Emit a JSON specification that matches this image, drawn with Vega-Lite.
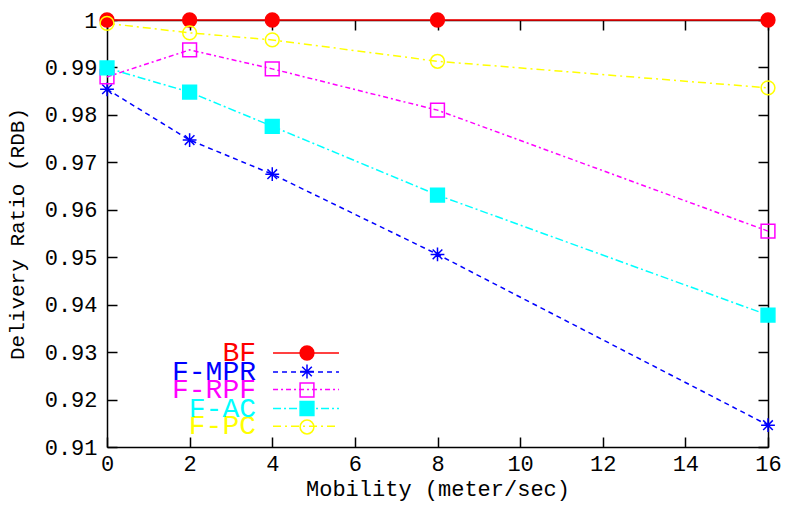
{
  "$schema": "https://vega.github.io/schema/vega-lite/v6.json",
  "width": 661,
  "height": 427,
  "autosize": "none",
  "padding": {"left": 107, "top": 20, "right": 18, "bottom": 59},
  "background": "white",
  "config": {
    "view": {"stroke": null},
    "font": "Liberation Mono",
    "axis": {
      "domainColor": "black", "domainWidth": 1.5,
      "tickColor": "black", "tickWidth": 1.5, "tickSize": -10,
      "grid": false, "labelFlush": false,
      "labelFont": "Liberation Mono", "labelFontSize": 22, "labelColor": "black",
      "titleFont": "Liberation Mono", "titleFontWeight": "normal", "titleColor": "black"
    }
  },
  "data": {"values": [
    {"mobility": 0, "ratio": 1.0, "protocol": "BF"},
    {"mobility": 2, "ratio": 1.0, "protocol": "BF"},
    {"mobility": 4, "ratio": 1.0, "protocol": "BF"},
    {"mobility": 8, "ratio": 1.0, "protocol": "BF"},
    {"mobility": 16, "ratio": 1.0, "protocol": "BF"},
    {"mobility": 0, "ratio": 0.9854, "protocol": "F-MPR"},
    {"mobility": 2, "ratio": 0.9747, "protocol": "F-MPR"},
    {"mobility": 4, "ratio": 0.9675, "protocol": "F-MPR"},
    {"mobility": 8, "ratio": 0.9506, "protocol": "F-MPR"},
    {"mobility": 16, "ratio": 0.9146, "protocol": "F-MPR"},
    {"mobility": 0, "ratio": 0.9880, "protocol": "F-RPF"},
    {"mobility": 2, "ratio": 0.9937, "protocol": "F-RPF"},
    {"mobility": 4, "ratio": 0.9897, "protocol": "F-RPF"},
    {"mobility": 8, "ratio": 0.9810, "protocol": "F-RPF"},
    {"mobility": 16, "ratio": 0.9555, "protocol": "F-RPF"},
    {"mobility": 0, "ratio": 0.9899, "protocol": "F-AC"},
    {"mobility": 2, "ratio": 0.9848, "protocol": "F-AC"},
    {"mobility": 4, "ratio": 0.9776, "protocol": "F-AC"},
    {"mobility": 8, "ratio": 0.9631, "protocol": "F-AC"},
    {"mobility": 16, "ratio": 0.9378, "protocol": "F-AC"},
    {"mobility": 0, "ratio": 0.9993, "protocol": "F-PC"},
    {"mobility": 2, "ratio": 0.9973, "protocol": "F-PC"},
    {"mobility": 4, "ratio": 0.9958, "protocol": "F-PC"},
    {"mobility": 8, "ratio": 0.9913, "protocol": "F-PC"},
    {"mobility": 16, "ratio": 0.9857, "protocol": "F-PC"}
  ]},
  "layer": [
    {
      "transform": [{"filter": {"field": "protocol", "oneOf": ["BF", "F-RPF", "F-PC"]}}],
      "mark": {"type": "line", "strokeWidth": 1.5},
      "encoding": {
        "x": {"field": "mobility", "type": "quantitative",
              "scale": {"domain": [0, 16], "nice": false},
              "axis": {"orient": "top", "labels": false, "title": null, "values": [0, 2, 4, 6, 8, 10, 12, 14, 16]}},
        "y": {"field": "ratio", "type": "quantitative",
              "scale": {"domain": [0.91, 1.0], "nice": false, "zero": false},
              "axis": {"orient": "right", "labels": false, "title": null, "values": [0.91, 0.92, 0.93, 0.94, 0.95, 0.96, 0.97, 0.98, 0.99, 1.0]}},
        "color": {"field": "protocol", "type": "nominal",
                  "scale": {"domain": ["BF", "F-MPR", "F-RPF", "F-AC", "F-PC"],
                            "range": ["#ff0000", "#0000ff", "#ff00ff", "#00ffff", "#ffff00"]},
                  "legend": {"orient": "none", "legendX": 185, "legendY": 319, "title": null,
                             "values": ["BF", "F-RPF", "F-PC"],
                             "padding": 0, "symbolType": "M-5,0H5", "symbolSize": 174, "symbolStrokeWidth": 1.5,
                             "labelFont": "Liberation Mono", "labelFontSize": 28, "labelAlign": "right",
                             "labelOffset": -64, "labelLimit": 0, "rowPadding": 8.6,
                             "encode": {"labels": {"update": {"fill": {"scale": "color", "field": "value"}}}}}},
        "strokeDash": {"field": "protocol", "type": "nominal",
                       "scale": {"domain": ["BF", "F-MPR", "F-RPF", "F-AC", "F-PC"],
                                 "range": [[1, 0], [5, 4], [5, 3, 2, 3], [8, 3, 2, 3], [8, 4, 2, 4]]}}
      }
    },
    {
      "transform": [{"filter": {"field": "protocol", "oneOf": ["F-MPR", "F-AC"]}}],
      "mark": {"type": "line", "strokeWidth": 1.5},
      "encoding": {
        "x": {"field": "mobility", "type": "quantitative", "axis": null},
        "y": {"field": "ratio", "type": "quantitative", "axis": null},
        "color": {"field": "protocol", "type": "nominal",
                  "legend": {"orient": "none", "legendX": 185, "legendY": 338, "title": null,
                             "values": ["F-MPR", "F-AC"],
                             "padding": 0, "symbolType": "M-5,0H5", "symbolSize": 174, "symbolStrokeWidth": 1.5,
                             "labelFont": "Liberation Mono", "labelFontSize": 28, "labelAlign": "right",
                             "labelOffset": -64, "labelLimit": 0, "rowPadding": 8.6,
                             "encode": {"labels": {"update": {"fill": {"scale": "color", "field": "value"}}}}}},
        "strokeDash": {"field": "protocol", "type": "nominal"}
      }
    },
    {
      "mark": {"type": "point", "filled": false, "size": 190, "strokeWidth": 1.5, "opacity": 1},
      "encoding": {
        "x": {"field": "mobility", "type": "quantitative",
              "axis": {"orient": "bottom", "title": "Mobility (meter/sec)", "titleFontSize": 22,
                       "labelPadding": 16, "values": [0, 2, 4, 6, 8, 10, 12, 14, 16]}},
        "y": {"field": "ratio", "type": "quantitative",
              "axis": {"orient": "left", "title": "Delivery Ratio (RDB)", "titleFontSize": 21,
                       "labelPadding": 20, "titlePadding": 17, "format": ".2~f",
                       "values": [0.91, 0.92, 0.93, 0.94, 0.95, 0.96, 0.97, 0.98, 0.99, 1.0]}},
        "color": {"field": "protocol", "type": "nominal",
                  "legend": {"orient": "none", "legendX": 192, "legendY": 325, "title": null,
                             "padding": 0, "symbolSize": 190, "symbolStrokeWidth": 1.5,
                             "labelFontSize": 1, "labelExpr": "''", "rowPadding": -1.5}},
        "shape": {"field": "protocol", "type": "nominal",
                  "scale": {"domain": ["BF", "F-MPR", "F-RPF", "F-AC", "F-PC"],
                            "range": ["circle", "M-1,0H1M0,-1V1M-0.7,-0.7L0.7,0.7M-0.7,0.7L0.7,-0.7", "square", "square", "circle"]}},
        "fill": {"field": "protocol", "type": "nominal",
                 "scale": {"domain": ["BF", "F-MPR", "F-RPF", "F-AC", "F-PC"],
                           "range": ["#ff0000", "transparent", "transparent", "#00ffff", "transparent"]}}
      }
    }
  ],
  "resolve": {
    "axis": {"x": "independent", "y": "independent"},
    "legend": {"color": "independent", "strokeDash": "independent", "shape": "independent", "fill": "independent"}
  }
}
